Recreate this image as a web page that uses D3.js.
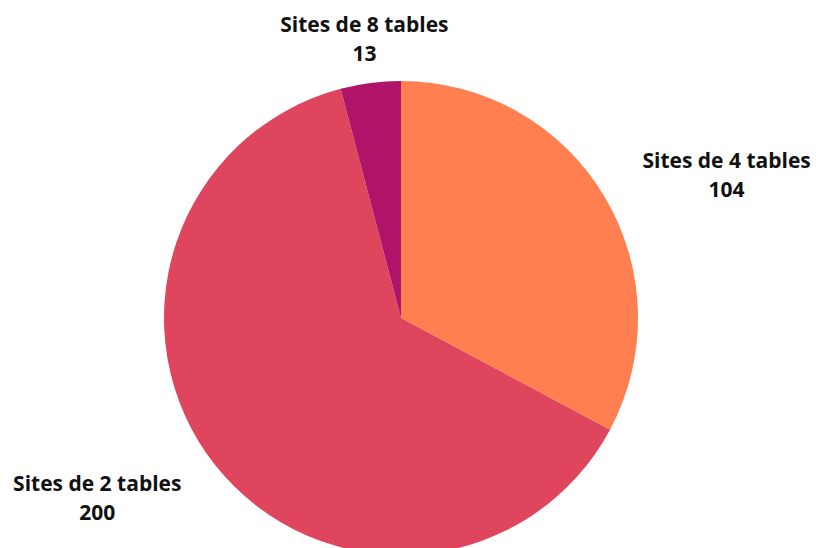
<!DOCTYPE html>
<head>
<meta charset="utf-8">
<script src="https://cdn.jsdelivr.net/npm/d3@7"></script>
<style>
body { margin: 0; background: #fff; }
text { font-family: "Open Sans", sans-serif; font-weight: bold; font-size: 21px; fill: #111; }
</style>
</head>
<body>
<script>

// data
var categories = ["Sites de 4 tables", "Sites de 2 tables", "Sites de 8 tables"];
var values = [104, 200, 13];
var colors = ["#FF7F50", "#DF465E", "#B01468"];

var width = 816, height = 548;
var cx = 401, cy = 318, radius = 237;

var svg = d3.select("body").append("svg")
    .attr("width", width)
    .attr("height", height);

var data = categories.map(function (c, i) { return { name: c, value: values[i], color: colors[i] }; });

var pie = d3.pie().sort(null).value(function (d) { return d.value; });
var arc = d3.arc().innerRadius(0).outerRadius(radius);
var labelArc = d3.arc().innerRadius(285).outerRadius(285);

var g = svg.append("g").attr("transform", "translate(" + cx + "," + cy + ")");

var arcs = pie(data);

g.selectAll("path")
    .data(arcs)
    .enter().append("path")
    .attr("d", arc)
    .attr("fill", function (d) { return d.data.color; });

//labels: two lines, centred on each other, block placed off the slice
arcs.forEach(function (d) {
    var p = labelArc.centroid(d);
    var mid = (d.startAngle + d.endAngle) / 2;
    var s = Math.sin(mid);
    var lab = g.append("g");
    var t1 = lab.append("text").attr("text-anchor", "middle").attr("y", -9).text(d.data.name);
    var t2 = lab.append("text").attr("text-anchor", "middle").attr("y", 20).text(d.data.value);
    var w = Math.max(t1.node().getComputedTextLength(), t2.node().getComputedTextLength());
    var x = p[0];
    if (s > 0.3) x = p[0] - 3 + w / 2;
    else if (s < -0.3) x = p[0] + 4 - w / 2;
    lab.attr("transform", "translate(" + x + "," + (p[1] + 5.5) + ")");
});

</script>
</body>
</html>
